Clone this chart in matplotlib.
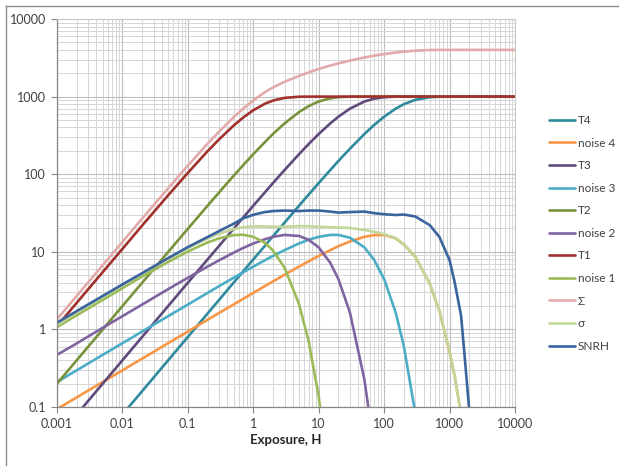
import numpy as np
import matplotlib
matplotlib.use("Agg")
import matplotlib.pyplot as plt
from matplotlib.ticker import LogLocator, FixedLocator, NullFormatter, FixedFormatter

nan = np.nan

exposure = [0.001, 0.002, 0.005, 0.01, 0.02, 0.05, 0.1, 0.2, 0.3, 0.5, 0.7, 1, 1.5, 2, 3, 5, 7, 10,
            15, 20, 30, 50, 70, 100, 150, 200, 300, 500, 700, 1000, 1200, 1500, 1700, 2000, 3000, 5000, 10000]

T4 = [0.008, 0.016, 0.04, 0.08, 0.16, 0.4, 0.8, 1.6, 2.4, 4.0, 5.6, 7.97, 11.9, 15.9, 23.7, 39.2, 54.5, 76.9,
      113, 148, 213, 330, 429, 551, 699, 798, 909, 982, 996, 1000, 1000, 1000, 1000, 1000, 1000, 1000, 1000]
noise4 = [0.094, 0.133, 0.21, 0.297, 0.42, 0.664, 0.939, 1.33, 1.63, 2.09, 2.48, 2.95, 3.61, 4.15, 5.06, 6.45, 7.53, 8.85,
          10.5, 11.8, 13.6, 15.6, 16.4, 16.5, 14.9, 12.4, 8.6, 3.85, 1.72, 0.51, 0.245, 0.08, 0.036, nan, nan, nan, nan]
T3 = [0.04, 0.08, 0.2, 0.4, 0.8, 2.0, 4.0, 7.97, 11.9, 19.8, 27.6, 39.2, 58.2, 76.9, 113, 181, 244, 330,
      451, 551, 699, 865, 939, 982, 997.5, 999.7, 1000, 1000, 1000, 1000, 1000, 1000, 1000, 1000, 1000, 1000, 1000]
noise3 = [0.21, 0.297, 0.47, 0.664, 0.939, 1.48, 2.09, 2.95, 3.61, 4.63, 5.44, 6.45, 7.77, 8.85, 10.5, 12.8, 14.3, 15.6,
          16.5, 16.5, 15.2, 11.4, 7.93, 4.45, 1.65, 0.61, 0.082, nan, nan, nan, nan, nan, nan, nan, nan, nan, nan]
T2 = [0.2, 0.4, 1.0, 2.0, 3.99, 9.95, 19.8, 39.2, 58.2, 95.2, 130.6, 181, 259, 330, 451, 632, 753, 865,
      950, 982, 997.5, 1000, 1000, 1000, 1000, 1000, 1000, 1000, 1000, 1000, 1000, 1000, 1000, 1000, 1000, 1000, 1000]
noise2 = [0.47, 0.66, 1.05, 1.48, 2.09, 3.30, 4.63, 6.45, 7.77, 9.74, 11.2, 12.8, 14.5, 15.6, 16.5, 16.0, 14.3, 11.4,
          7.22, 4.45, 1.65, 0.224, 0.030, nan, nan, nan, nan, nan, nan, nan, nan, nan, nan, nan, nan, nan, nan]
T1 = [1.1, 2.2, 5.48, 10.9, 21.8, 53.5, 104, 198, 281, 423, 537, 667, 808, 889, 963, 996, 999.5, 1000,
      1000, 1000, 1000, 1000, 1000, 1000, 1000, 1000, 1000, 1000, 1000, 1000, 1000, 1000, 1000, 1000, 1000, 1000, 1000]
noise1 = [1.07, 1.52, 2.40, 3.40, 4.80, 7.40, 10.1, 13.2, 14.9, 16.4, 16.6, 15.6, 13.1, 10.4, 6.26, 2.12, 0.71, 0.136,
          0.0087, nan, nan, nan, nan, nan, nan, nan, nan, nan, nan, nan, nan, nan, nan, nan, nan, nan, nan]
Sigma_sum = [1.35, 2.70, 6.72, 13.4, 26.8, 65.9, 129, 247, 354, 542, 701, 895, 1137, 1312, 1551, 1848, 2051, 2272,
             2514, 2681, 2910, 3195, 3368, 3533, 3697, 3798, 3909, 3982, 3996, 4000, 4000, 4000, 4000, 4000, 4000, 4000, 4000]
sigma = [1.14, 1.65, 2.62, 3.72, 5.25, 8.2, 11.2, 14.9, 17.1, 19.6, 20.7, 21.2, 21.2, 21.0, 21.0, 21.4, 21.4, 21.0,
         20.7, 20.6, 20.3, 19.1, 18.1, 16.9, 15.0, 12.5, 8.7, 3.9, 1.75, 0.52, 0.25, 0.078, 0.035, nan, nan, nan, nan]
SNRH = [1.22, 1.72, 2.7, 3.8, 5.3, 8.3, 11.5, 15.5, 18.5, 23, 27, 30, 32.5, 33.5, 34, 33.5, 34, 34,
        33, 32, 32.5, 33, 31.5, 30.5, 29.8, 30.2, 28.5, 22, 15.5, 7.8, 4.0, 1.5, 0.45, 0.09, nan, nan, nan]

series_names = ["T4", "noise 4", "T3", "noise 3", "T2", "noise 2", "T1", "noise 1", "\u03a3", "\u03c3", "SNRH"]
series_values = [T4, noise4, T3, noise3, T2, noise2, T1, noise1, Sigma_sum, sigma, SNRH]
series_colors = ["#2E8A9C", "#F79646", "#604A7B", "#4BACC6", "#77933C", "#8064A2",
                 "#A0312D", "#9BBB59", "#E3AAAA", "#C3D69B", "#3A649E"]

x_ticks = [0.001, 0.01, 0.1, 1, 10, 100, 1000, 10000]
x_tick_labels = ["0.001", "0.01", "0.1", "1", "10", "100", "1000", "10000"]
y_ticks = [0.1, 1, 10, 100, 1000, 10000]
y_tick_labels = ["0.1", "1", "10", "100", "1000", "10000"]

plt.rcParams['font.family'] = ['Lato', 'DejaVu Sans']

W, H = 619, 466
fig = plt.figure(figsize=(W / 100, H / 100), dpi=100)
ax = fig.add_axes([57 / W, 1 - 407 / H, (515 - 57) / W, (407 - 19) / H])

x = np.array(exposure, dtype=float)
for name, vals, col in zip(series_names, series_values, series_colors):
    ax.plot(x, np.array(vals, dtype=float), color=col, lw=1.9, label=name, solid_capstyle='round')

ax.set_xscale('log')
ax.set_yscale('log')
ax.set_xlim(0.001, 10000)
ax.set_ylim(0.1, 10000)

ax.xaxis.set_major_locator(FixedLocator(x_ticks))
ax.xaxis.set_major_formatter(FixedFormatter(x_tick_labels))
ax.yaxis.set_major_locator(FixedLocator(y_ticks))
ax.yaxis.set_major_formatter(FixedFormatter(y_tick_labels))
ax.xaxis.set_minor_locator(LogLocator(base=10, subs=np.arange(2, 10), numticks=50))
ax.yaxis.set_minor_locator(LogLocator(base=10, subs=np.arange(2, 10), numticks=50))
ax.xaxis.set_minor_formatter(NullFormatter())
ax.yaxis.set_minor_formatter(NullFormatter())

ax.grid(True, which='major', color='#BDBDBD', lw=0.8)
ax.grid(True, which='minor', color='#D6D6D6', lw=0.7)
ax.set_axisbelow(True)

for s in ['top', 'right']:
    ax.spines[s].set_color('#C8C8C8')
    ax.spines[s].set_linewidth(0.8)
for s in ['left', 'bottom']:
    ax.spines[s].set_color('#868686')
    ax.spines[s].set_linewidth(0.9)

ax.tick_params(which='major', length=4, width=0.8, color='#868686', labelsize=9, labelcolor='#404040', pad=4)
ax.tick_params(which='minor', length=0)

ax.set_xlabel("Exposure, H", fontsize=9.5, fontweight='bold', color='#262626', labelpad=3)

leg = fig.legend(loc='upper left', bbox_to_anchor=(549 / W, 1 - 115 / H), frameon=False,
                 borderpad=0, borderaxespad=0,
                 fontsize=8.5, handlelength=2.2, handletextpad=0.25, labelspacing=0.98)
for t in leg.get_texts():
    t.set_color('#404040')

# chart area border (left and top visible)
fig.add_artist(plt.Line2D([5.5 / W, 5.5 / W], [0, 1 - 5.5 / H], color='#8C8C8C', lw=1.0, transform=fig.transFigure))
fig.add_artist(plt.Line2D([5.5 / W, 1], [1 - 5.5 / H, 1 - 5.5 / H], color='#8C8C8C', lw=1.0, transform=fig.transFigure))

fig.savefig("out.png", dpi=100)
